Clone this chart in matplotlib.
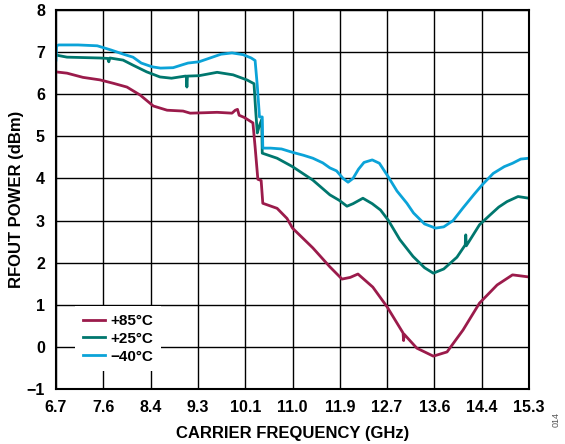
import matplotlib
matplotlib.use("Agg")
import matplotlib.pyplot as plt

plt.rcParams['font.family'] = ['Liberation Sans', 'DejaVu Sans']
plt.rcParams['font.weight'] = 'bold'

# carrier frequency (GHz) / RFOUT power (dBm)
f_85 = [6.70, 6.90, 7.19, 7.50, 7.74, 7.99, 8.23, 8.47, 8.72, 9.01, 9.14, 9.40, 9.63,
        9.90, 9.96, 10.00, 10.03, 10.12, 10.28, 10.32, 10.37, 10.43, 10.46, 10.72,
        10.90, 11.00, 11.37, 11.68, 11.90, 12.05, 12.19, 12.46, 12.72, 13.01, 13.02,
        13.03, 13.26, 13.56, 13.81, 14.10, 14.40, 14.72, 15.00, 15.30]
p_85 = [6.53, 6.50, 6.40, 6.34, 6.26, 6.17, 5.98, 5.72, 5.62, 5.60, 5.55, 5.56, 5.57,
        5.55, 5.62, 5.64, 5.50, 5.45, 5.32, 4.75, 3.98, 3.95, 3.41, 3.29,
        3.05, 2.82, 2.35, 1.90, 1.61, 1.65, 1.73, 1.42, 0.95, 0.33, 0.15,
        0.30, -0.03, -0.22, -0.12, 0.40, 1.04, 1.47, 1.71, 1.66]

f_25 = [6.70, 6.90, 7.20, 7.50, 7.64, 7.66, 7.68, 7.92, 8.10, 8.35, 8.59, 8.80, 9.05,
        9.07, 9.08, 9.09, 9.30, 9.63, 9.92, 10.17, 10.30, 10.33, 10.36, 10.39, 10.44,
        10.45, 10.72, 11.00, 11.37, 11.68, 11.85, 11.99, 12.10, 12.28, 12.45, 12.60,
        12.74, 12.95, 13.19, 13.40, 13.56, 13.75, 13.99, 14.14, 14.15, 14.16, 14.40,
        14.59, 14.75, 14.90, 15.10, 15.30]
p_25 = [6.93, 6.88, 6.87, 6.86, 6.85, 6.77, 6.86, 6.81, 6.69, 6.53, 6.41, 6.38, 6.43,
        6.43, 6.17, 6.43, 6.44, 6.52, 6.46, 6.34, 6.25, 5.62, 5.08, 5.22, 5.40,
        4.60, 4.48, 4.28, 3.96, 3.61, 3.48, 3.34, 3.40, 3.53, 3.40, 3.25,
        3.01, 2.55, 2.15, 1.88, 1.75, 1.85, 2.13, 2.42, 2.66, 2.40, 2.90,
        3.13, 3.32, 3.45, 3.57, 3.53]

f_m40 = [6.70, 6.71, 6.75, 7.10, 7.45, 7.70, 7.95, 8.10, 8.25, 8.45, 8.60, 8.83, 9.00,
         9.10, 9.30, 9.50, 9.70, 9.90, 10.10, 10.25, 10.32, 10.36, 10.40, 10.45, 10.46,
         10.60, 10.80, 11.00, 11.20, 11.37, 11.55, 11.68, 11.80, 11.92, 12.01, 12.10,
         12.20, 12.30, 12.45, 12.58, 12.74, 12.90, 13.08, 13.20, 13.40, 13.60, 13.75,
         13.92, 14.10, 14.30, 14.45, 14.65, 14.85, 15.00, 15.15, 15.30]
p_m40 = [6.81, 7.15, 7.17, 7.17, 7.15, 7.05, 6.94, 6.88, 6.74, 6.65, 6.62, 6.63, 6.70,
         6.74, 6.77, 6.86, 6.95, 6.98, 6.94, 6.86, 6.80, 6.20, 5.46, 5.46, 4.72,
         4.72, 4.70, 4.62, 4.55, 4.48, 4.37, 4.25, 4.18, 4.00, 3.91, 4.00,
         4.22, 4.38, 4.44, 4.36, 4.04, 3.70, 3.41, 3.18, 2.92, 2.82, 2.85,
         3.00, 3.30, 3.62, 3.85, 4.12, 4.28, 4.36, 4.46, 4.48]

x_ticks = [6.7 + 0.86 * i for i in range(11)]
x_labels = ['6.7', '7.6', '8.4', '9.3', '10.1', '11.0', '11.9', '12.7', '13.6', '14.4', '15.3']
y_ticks = list(range(-1, 9))

fig = plt.figure(figsize=(5.65, 4.44), dpi=100)
ax = fig.add_axes([0.0991, 0.1239, 0.8372, 0.8536])

ax.plot(f_85, p_85, color='#9b1b4b', lw=2.0, label='+85°C')
ax.plot(f_25, p_25, color='#00776e', lw=2.0, label='+25°C')
ax.plot(f_m40, p_m40, color='#0ba3d8', lw=2.0, label='\u221240°C')

ax.set_xlim(6.7, 15.3)
ax.set_ylim(-1, 8)
ax.set_xticks(x_ticks)
ax.set_xticklabels(x_labels)
ax.set_yticks(y_ticks)
ax.grid(True, color='black', lw=1.0)
ax.set_axisbelow(True)
ax.tick_params(length=0, labelsize=11.5, pad=8)
for s in ax.spines.values():
    s.set_linewidth(1.5)

ax.set_xlabel('CARRIER FREQUENCY (GHz)', fontsize=12, fontweight='bold', labelpad=8)
ax.set_ylabel('RFOUT POWER (dBm)', fontsize=12, fontweight='bold', labelpad=2)

leg = ax.legend(loc='lower left', bbox_to_anchor=(0.04, 0.047), borderaxespad=0,
                fontsize=11, frameon=True, fancybox=False, framealpha=1,
                edgecolor='none', handlelength=1.45, handletextpad=0.35,
                labelspacing=0.25, borderpad=0.5)

fig.text(0.985, 0.055, '014', rotation=90, fontsize=6.5, color='#555555',
         fontweight='normal', ha='center', va='center')

fig.savefig('out.png', dpi=100)
